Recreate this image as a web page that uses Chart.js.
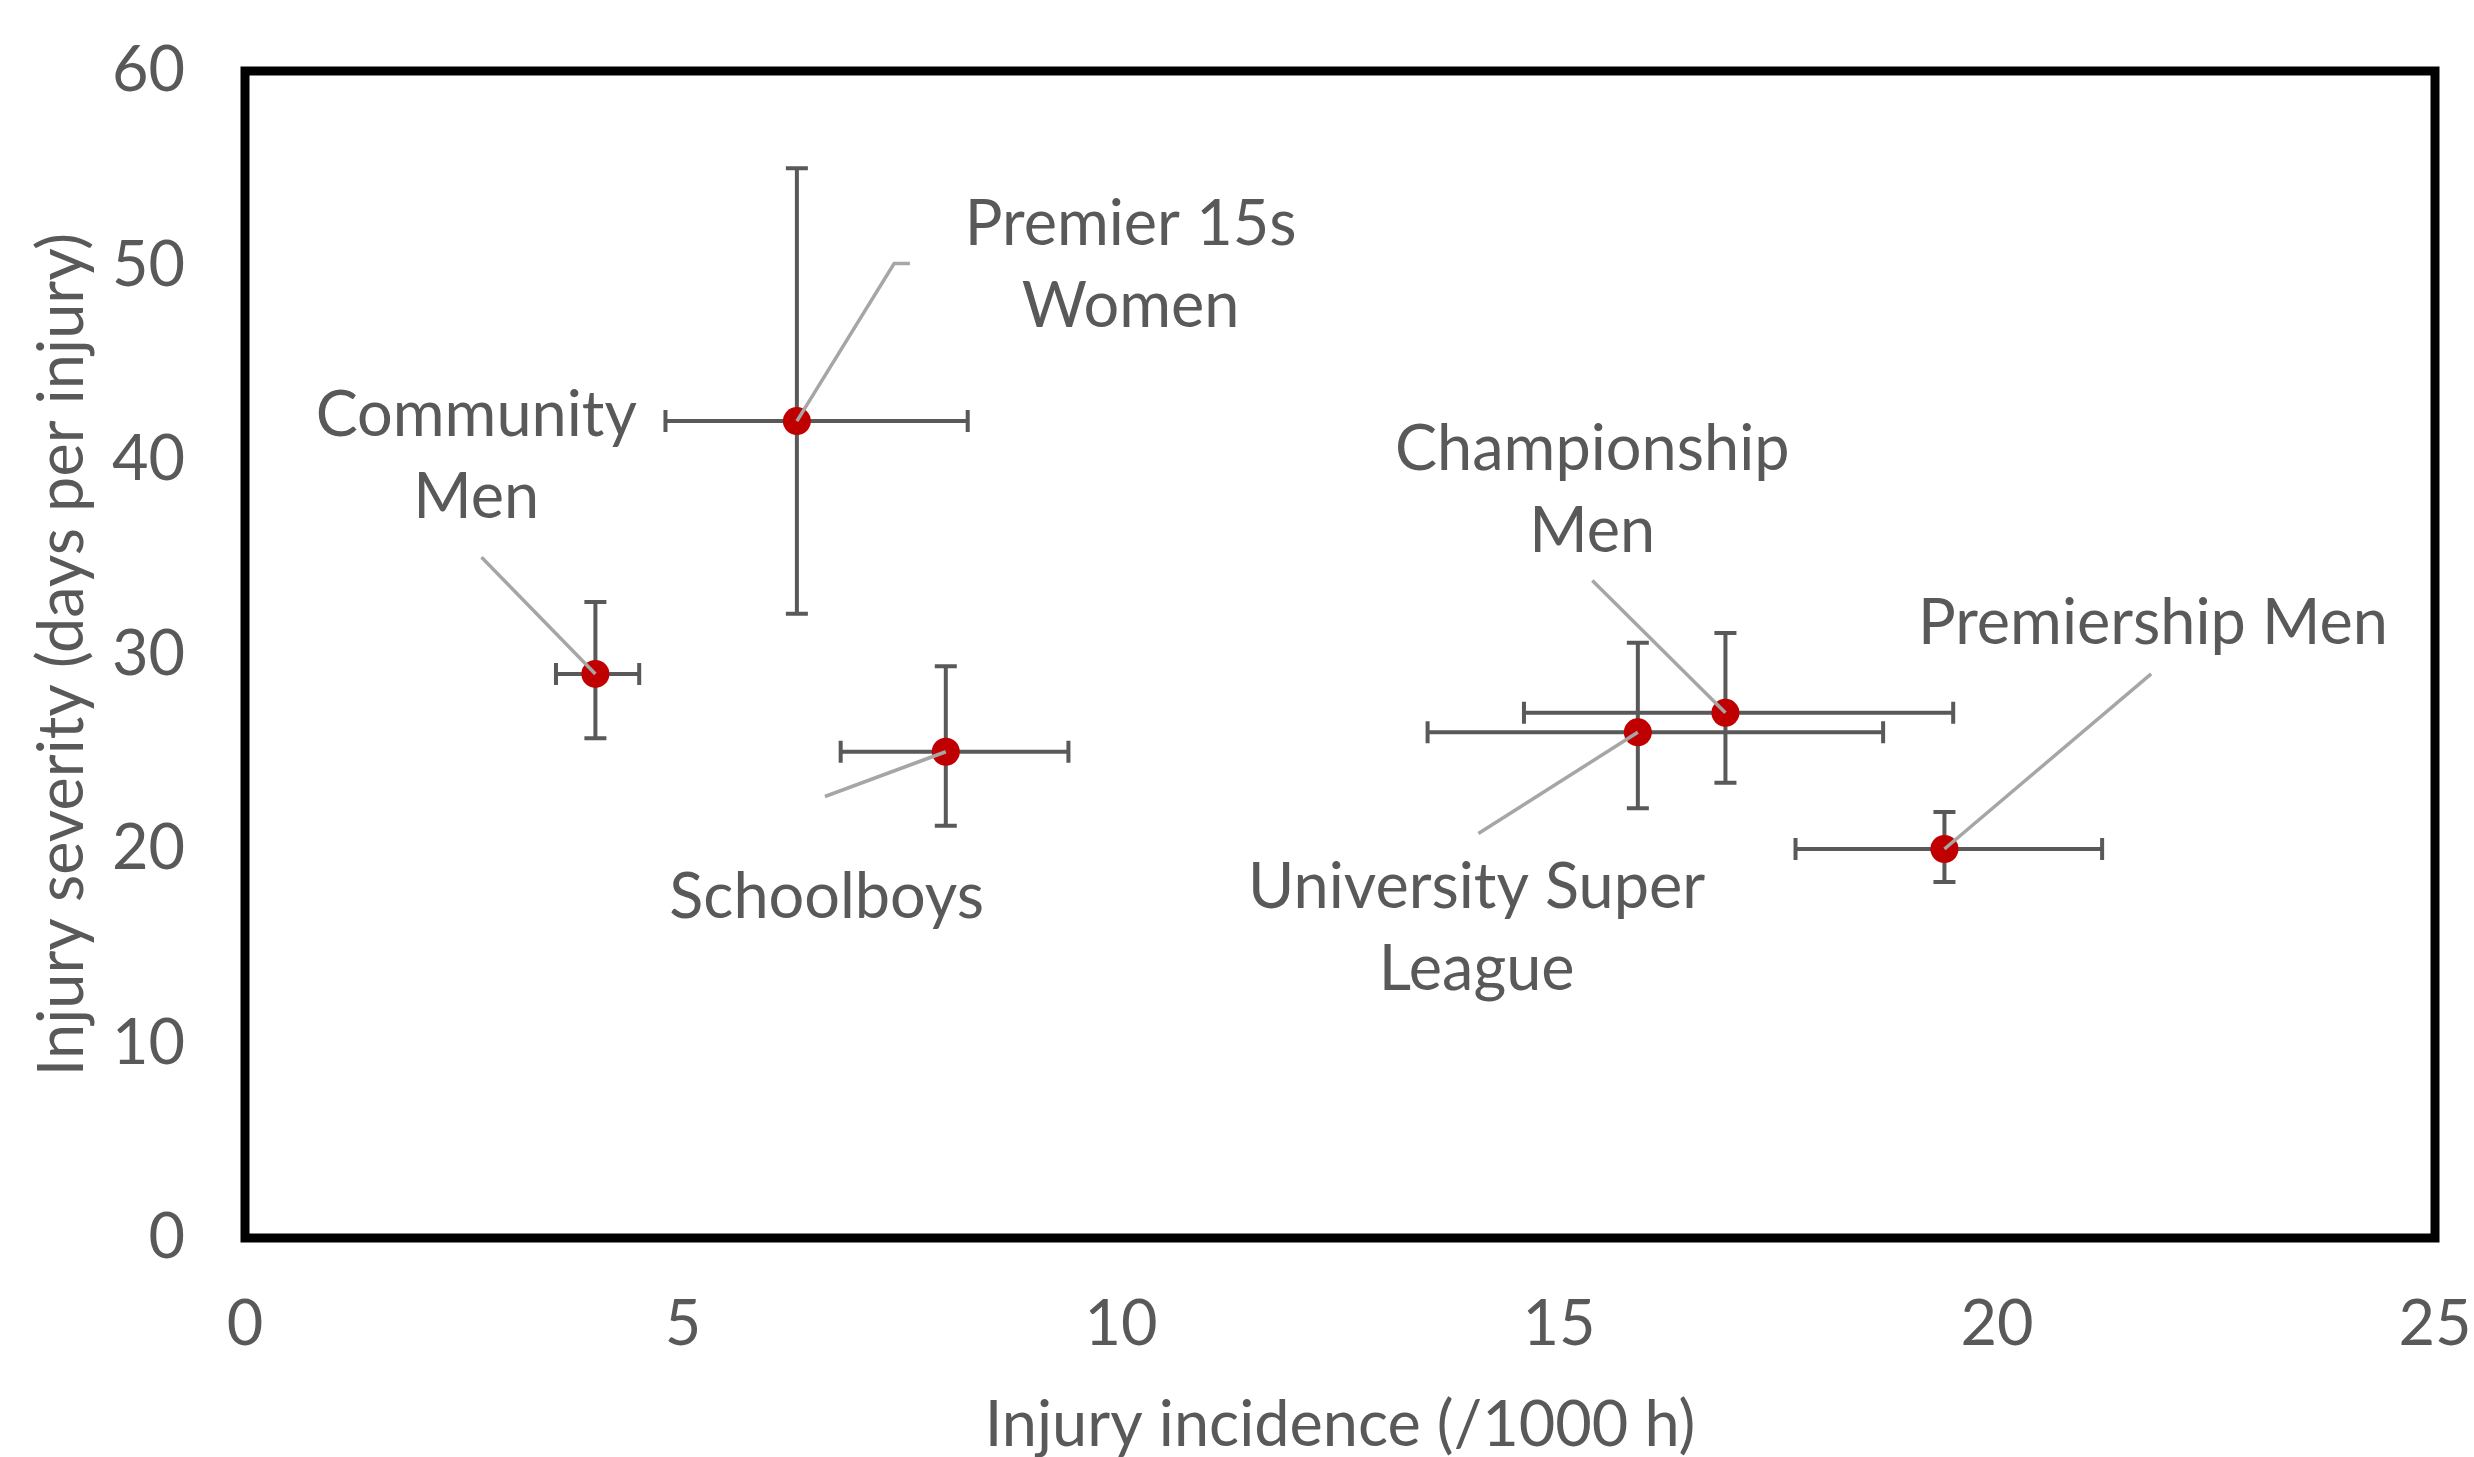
<!DOCTYPE html>
<html>
<head>
<meta charset="utf-8">
<script src="https://cdn.jsdelivr.net/npm/chart.js@4/dist/chart.umd.min.js"></script>
<style>
  html, body { margin: 0; padding: 0; background: #ffffff; }
  #wrap { width: 2474px; height: 1457px; position: relative; }
</style>
</head>
<body>
<div id="wrap"><canvas id="c"></canvas></div>
<script>
// Injury incidence vs severity by playing level, with 95% CI whiskers
const groups = ['Community Men', 'Premier 15s Women', 'Schoolboys',
                'University Super League', 'Championship Men', 'Premiership Men'];
const incidence     = [4.0, 6.3, 8.0, 15.9, 16.9, 19.4];
const incidenceLow  = [3.55, 4.8, 6.8, 13.5, 14.6, 17.7];
const incidenceHigh = [4.5, 8.25, 9.4, 18.7, 19.5, 21.2];
const severity      = [29, 42, 25, 26, 27, 20];
const severityLow   = [25.7, 32.1, 21.2, 22.1, 23.4, 18.3];
const severityHigh  = [32.7, 55.0, 29.4, 30.6, 31.1, 21.9];
const xTicks = [0, 5, 10, 15, 20, 25];
const yTicks = [0, 10, 20, 30, 40, 50, 60];

// Label text per group, split into lines
const labelLines = [
  ['Community', 'Men'],
  ['Premier 15s', 'Women'],
  ['Schoolboys'],
  ['University Super', 'League'],
  ['Championship', 'Men'],
  ['Premiership Men']
];
// Label placement (centre of first line) and leader-line paths, in axis units
const labelAt = [[2.64, 42.3], [10.11, 52.1], [6.64, 17.5], [14.06, 18.0], [15.38, 40.55], [21.78, 31.6]];
const leaderPath = [
  [[2.70, 35.0]],
  [[7.59, 50.1], [7.41, 50.1]],
  [[6.62, 22.7]],
  [[14.08, 20.8]],
  [[15.38, 33.8]],
  [[21.76, 29.0]]
];

const FONT = 'Lato, "Open Sans", sans-serif';
const FONT_SIZE = 63;
const TEXT = '#595959';

const errorBars = {
  id: 'errorBars',
  beforeDatasetsDraw(chart) {
    const {ctx, scales: {x, y}} = chart;
    const cap = 11;
    ctx.save();
    ctx.strokeStyle = '#595959';
    ctx.lineWidth = 4;
    ctx.lineCap = 'butt';
    groups.forEach((g, i) => {
      const px = x.getPixelForValue(incidence[i]);
      const py = y.getPixelForValue(severity[i]);
      const xl = x.getPixelForValue(incidenceLow[i]);
      const xh = x.getPixelForValue(incidenceHigh[i]);
      const yl = y.getPixelForValue(severityLow[i]);
      const yh = y.getPixelForValue(severityHigh[i]);
      ctx.beginPath();
      ctx.moveTo(xl, py); ctx.lineTo(xh, py);
      ctx.moveTo(xl, py - cap); ctx.lineTo(xl, py + cap);
      ctx.moveTo(xh, py - cap); ctx.lineTo(xh, py + cap);
      ctx.moveTo(px, yl); ctx.lineTo(px, yh);
      ctx.moveTo(px - cap, yl); ctx.lineTo(px + cap, yl);
      ctx.moveTo(px - cap, yh); ctx.lineTo(px + cap, yh);
      ctx.stroke();
    });
    ctx.restore();
  }
};

const callouts = {
  id: 'callouts',
  afterDatasetsDraw(chart) {
    const {ctx, scales: {x, y}} = chart;
    ctx.save();
    // leader lines
    ctx.strokeStyle = '#A6A6A6';
    ctx.lineWidth = 3.5;
    groups.forEach((g, i) => {
      const pts = leaderPath[i];
      ctx.beginPath();
      ctx.moveTo(x.getPixelForValue(pts[0][0]), y.getPixelForValue(pts[0][1]));
      for (let k = 1; k < pts.length; k++) {
        ctx.lineTo(x.getPixelForValue(pts[k][0]), y.getPixelForValue(pts[k][1]));
      }
      ctx.lineTo(x.getPixelForValue(incidence[i]), y.getPixelForValue(severity[i]));
      ctx.stroke();
    });
    // label text
    ctx.fillStyle = TEXT;
    ctx.font = FONT_SIZE + 'px ' + FONT;
    ctx.textAlign = 'center';
    ctx.textBaseline = 'middle';
    const lineGap = 82;
    groups.forEach((g, i) => {
      const cx = x.getPixelForValue(labelAt[i][0]);
      const cy = y.getPixelForValue(labelAt[i][1]);
      labelLines[i].forEach((t, k) => ctx.fillText(t, cx, cy + k * lineGap));
    });
    ctx.restore();
  },
  afterDraw(chart) {
    const {ctx, chartArea: a} = chart;
    ctx.save();
    ctx.strokeStyle = '#000000';
    ctx.lineWidth = 9;
    ctx.strokeRect(a.left, a.top, a.right - a.left, a.bottom - a.top);
    ctx.restore();
  }
};

new Chart(document.getElementById('c'), {
  type: 'scatter',
  data: {
    datasets: [{
      label: 'Injury burden',
      data: groups.map((g, i) => ({x: incidence[i], y: severity[i]})),
      backgroundColor: '#C00000',
      borderColor: '#C00000',
      borderWidth: 0,
      pointRadius: 14,
      pointHoverRadius: 14
    }]
  },
  options: {
    responsive: true,
    maintainAspectRatio: false,
    animation: false,
    devicePixelRatio: 1,
    layout: { padding: { left: 0, top: 71, right: 39, bottom: 0 } },
    plugins: { legend: { display: false }, tooltip: { enabled: false } },
    scales: {
      x: {
        type: 'linear',
        min: 0, max: 25,
        afterBuildTicks: s => { s.ticks = xTicks.map(v => ({value: v})); },
        afterFit: s => { s.height = 219; s.paddingLeft = 0; s.paddingRight = 0; },
        grid: { display: false, drawTicks: false },
        border: { display: false },
        ticks: { color: TEXT, font: { family: FONT, size: FONT_SIZE }, padding: 49, maxRotation: 0 },
        title: {
          display: true,
          text: 'Injury incidence (/1000 h)',
          color: TEXT,
          font: { family: FONT, size: FONT_SIZE, lineHeight: 1.0 },
          padding: { top: 0, bottom: 0 }
        }
      },
      y: {
        type: 'linear',
        min: 0, max: 60,
        afterBuildTicks: s => { s.ticks = yTicks.map(v => ({value: v})); },
        afterFit: s => { s.width = 245; s.paddingTop = 0; s.paddingBottom = 0; },
        grid: { display: false, drawTicks: false },
        border: { display: false },
        ticks: { color: TEXT, font: { family: FONT, size: FONT_SIZE }, padding: 60 },
        title: {
          display: true,
          text: 'Injury severity (days per injury)',
          color: TEXT,
          font: { family: FONT, size: FONT_SIZE, lineHeight: 1.2 },
          padding: { top: 25, bottom: 0 }
        }
      }
    }
  },
  plugins: [errorBars, callouts]
});
</script>
</body>
</html>
